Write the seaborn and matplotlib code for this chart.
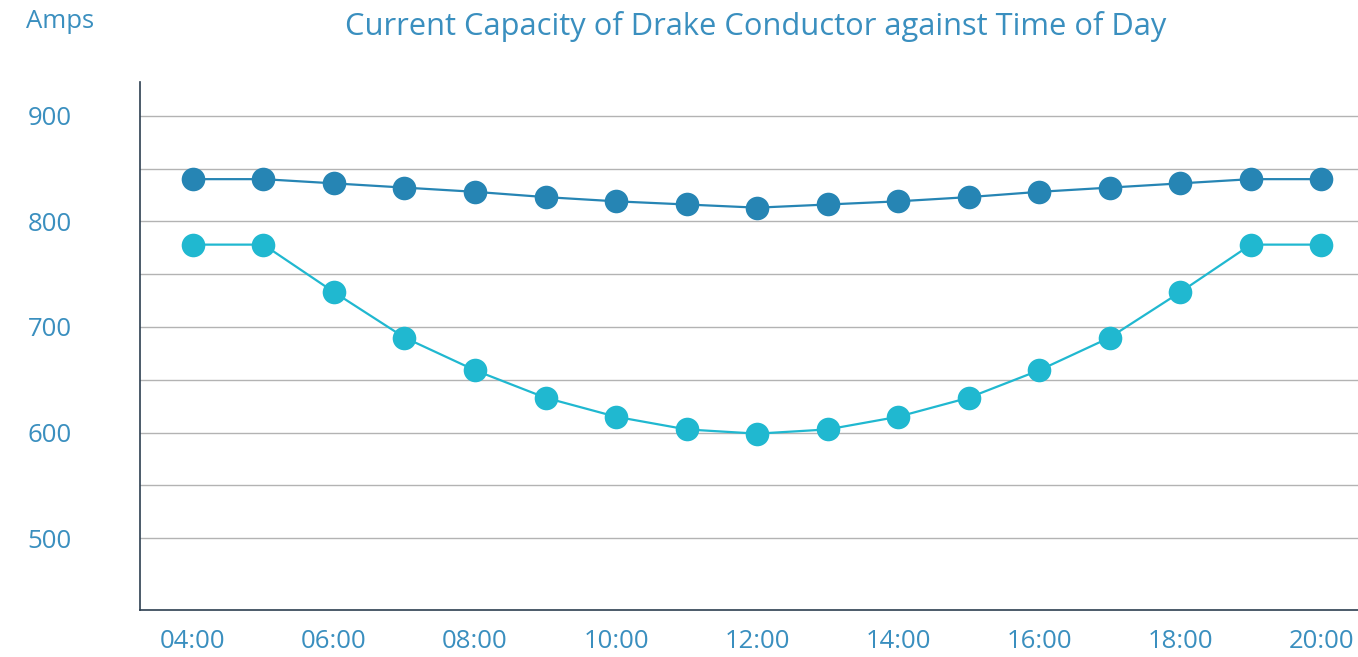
import numpy as np
import pandas as pd
import seaborn as sns
from matplotlib import pyplot as plt

hours = list(range(4, 21))
high_rating = [840, 840, 836, 832, 828, 823, 819, 816, 813, 816, 819, 823, 828, 832, 836, 840, 840]
low_rating = [778, 778, 733, 690, 659, 633, 615, 603, 599, 603, 615, 633, 659, 690, 733, 778, 778]
tick_hours = list(range(4, 21, 2))
tick_labels = [f"{h:02d}:00" for h in tick_hours]

TEXT = "#3a8fbf"
DARK = "#2685b4"
LIGHT = "#20b8d0"

df = pd.DataFrame({
    "hour": hours * 2,
    "amps": high_rating + low_rating,
    "series": ["high"] * len(hours) + ["low"] * len(hours),
})

sns.set_style("white")
plt.rcParams["font.family"] = ["Open Sans", "DejaVu Sans"]

fig = plt.figure(figsize=(13.58, 6.57), dpi=100)
ax = fig.add_axes([140 / 1358, 47 / 657, 1218 / 1358, 528 / 657])

sns.lineplot(
    data=df, x="hour", y="amps", hue="series",
    palette={"high": DARK, "low": LIGHT},
    marker="o", markersize=17, markeredgewidth=0,
    linewidth=1.6, legend=False, ax=ax, zorder=3,
)

ax.set_xlim(3.25, 20.52)
ax.set_ylim(432, 932)
ax.set_yticks([500, 600, 700, 800, 900])
ax.set_yticks([550, 650, 750, 850], minor=True)
ax.set_xticks(tick_hours)
ax.set_xticklabels(tick_labels)
ax.grid(True, axis="y", which="both", color="#b3b3b3", linewidth=1)
ax.set_axisbelow(True)
ax.tick_params(axis="both", which="both", length=0, labelsize=18.5, colors=TEXT)
ax.tick_params(axis="y", pad=81)
ax.tick_params(axis="x", pad=14)
for lab in ax.get_yticklabels():
    lab.set_horizontalalignment("left")
ax.set_xlabel("")
ax.set_ylabel("")
for side in ["top", "right"]:
    ax.spines[side].set_visible(False)
for side in ["left", "bottom"]:
    ax.spines[side].set_color("#2c3e50")
    ax.spines[side].set_linewidth(1.2)

fig.text(26 / 1358, 1 - 22 / 657, "Amps", color=TEXT, fontsize=18.5, va="center", ha="left")
fig.text(756 / 1358, 1 - 27 / 657, "Current Capacity of Drake Conductor against Time of Day",
         color=TEXT, fontsize=22.2, va="center", ha="center")

fig.savefig("out.png", dpi=100)
